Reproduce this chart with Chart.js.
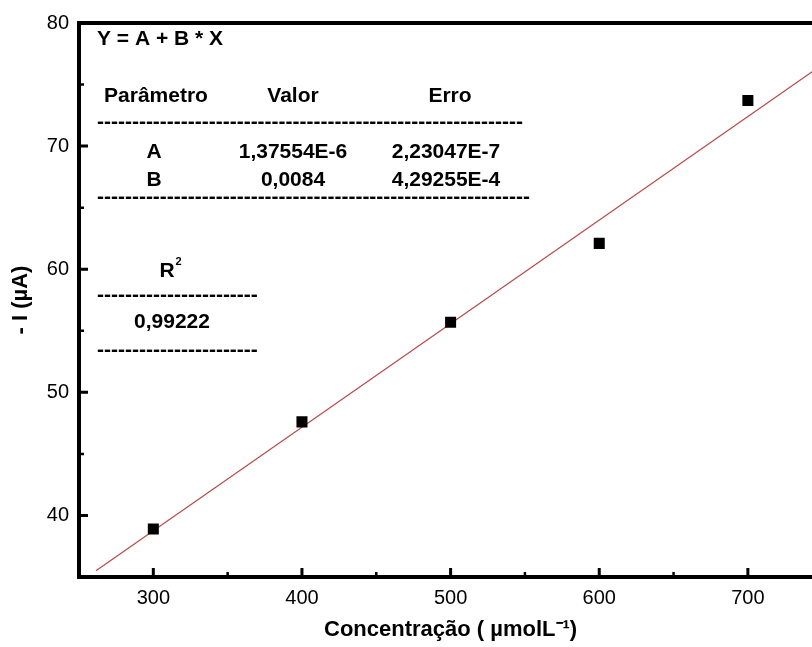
<!DOCTYPE html>
<html>
<head>
<meta charset="utf-8">
<script src="https://cdn.jsdelivr.net/npm/chart.js@4.4.0/dist/chart.umd.min.js"></script>
<style>
  html, body { margin: 0; padding: 0; background: #fff; overflow: hidden; }
  #wrap { position: absolute; left: 0; top: 0; width: 830px; height: 647px; }
</style>
</head>
<body>
<div id="wrap"><canvas id="c" width="830" height="647"></canvas></div>
<script>
// measured points and the linear fit drawn through them
const concentracao = [300, 400, 500, 600, 700];
const corrente = [38.9, 47.6, 55.7, 62.1, 73.7];
const ajusteX = [261.4, 750];
const ajusteY = [35.5, 76.6];

const xTicks = [300, 400, 500, 600, 700];
const xMinorTicks = [350, 450, 550, 650];
const yTicks = [40, 50, 60, 70, 80];
const yMinorTicks = [45, 55, 65, 75];

// fit report text (Origin style)
const equacao = "Y = A + B * X";
const cabecalho = ["Parâmetro", "Valor", "Erro"];
const parametros = ["A", "B"];
const valores = ["1,37554E-6", "0,0084"];
const erros = ["2,23047E-7", "4,29255E-4"];
const r2 = "0,99222";

const FONT = "'Liberation Sans', Arial, sans-serif";

// frame + inward ticks, like the Origin plot
const framePlugin = {
  id: "frame",
  afterDatasetsDraw(chart) {
    const { ctx, chartArea: a, scales: { x, y } } = chart;
    ctx.save();
    ctx.strokeStyle = "#000";
    ctx.lineWidth = 3;
    ctx.beginPath();
    xTicks.forEach(v => { const p = x.getPixelForValue(v); ctx.moveTo(p, a.bottom); ctx.lineTo(p, a.bottom - 9); });
    yTicks.forEach(v => { const p = y.getPixelForValue(v); ctx.moveTo(a.left, p); ctx.lineTo(a.left + 9, p); });
    ctx.stroke();
    ctx.lineWidth = 2.5;
    ctx.beginPath();
    xMinorTicks.forEach(v => { const p = x.getPixelForValue(v); ctx.moveTo(p, a.bottom); ctx.lineTo(p, a.bottom - 5); });
    yMinorTicks.forEach(v => { const p = y.getPixelForValue(v); ctx.moveTo(a.left, p); ctx.lineTo(a.left + 5, p); });
    ctx.stroke();
    ctx.lineWidth = 4;
    ctx.lineCap = "square";
    ctx.strokeRect(a.left, a.top, a.right - a.left, a.bottom - a.top);
    ctx.restore();
  }
};

// the parameter table in the upper-left corner
const tablePlugin = {
  id: "fitTable",
  afterDraw(chart) {
    const ctx = chart.ctx;
    ctx.save();
    ctx.fillStyle = "#000";
    ctx.textBaseline = "middle";
    ctx.font = "bold 21px " + FONT;

    ctx.textAlign = "left";
    ctx.fillText(equacao, 97, 39);

    const cols = [156, 293, 450];
    ctx.textAlign = "center";
    cabecalho.forEach((t, i) => ctx.fillText(t, cols[i], 96));
    parametros.forEach((p, i) => {
      const yy = 152 + i * 28;
      ctx.fillText(p, cols[0] - 2, yy);
      ctx.fillText(valores[i], cols[1], yy);
      ctx.fillText(erros[i], cols[2] - 4, yy);
    });

    // rows of hyphens, as in the original text table
    const dashes = (x0, x1, yy) => {
      ctx.textAlign = "left";
      const n = Math.round((x1 - x0) / ctx.measureText("-").width);
      ctx.fillText("-".repeat(n), x0, yy, x1 - x0);
    };
    dashes(97, 523, 122);
    dashes(97, 530, 197);
    dashes(97, 258, 295);
    dashes(97, 258, 350);

    // R with a small superscript 2
    ctx.textAlign = "center";
    ctx.fillText("R", 167, 271);
    const w = ctx.measureText("R").width;
    ctx.font = "bold 11px " + FONT;
    ctx.textAlign = "left";
    ctx.fillText("2", 167 + w / 2 + 1, 262);
    ctx.font = "bold 21px " + FONT;
    ctx.textAlign = "center";
    ctx.fillText(r2, 172, 322);
    ctx.restore();
  }
};

new Chart(document.getElementById("c"), {
  type: "scatter",
  data: {
    datasets: [
      {
        label: "pontos",
        data: concentracao.map((v, i) => ({ x: v, y: corrente[i] })),
        pointStyle: "rect",
        pointRadius: 7.8,
        backgroundColor: "#000",
        borderColor: "#000",
        borderWidth: 0,
        order: 1
      },
      {
        label: "ajuste linear",
        data: ajusteX.map((v, i) => ({ x: v, y: ajusteY[i] })),
        showLine: true,
        borderColor: "#b84a4a",
        borderWidth: 1.2,
        pointRadius: 0,
        order: 2
      }
    ]
  },
  options: {
    responsive: false,
    animation: false,
    layout: { padding: { top: 23, right: 4, left: 0, bottom: 0 } },
    plugins: { legend: { display: false }, tooltip: { enabled: false } },
    scales: {
      x: {
        type: "linear",
        min: 250,
        max: 750,
        afterBuildTicks: s => { s.ticks = xTicks.map(v => ({ value: v })); },
        afterFit: s => { s.height = 70; },
        grid: { display: false, drawTicks: false },
        border: { display: false },
        ticks: { color: "#000", padding: 9, font: { family: FONT, size: 20 } },
        title: {
          display: true,
          text: "Concentração ( µmolL⁻¹)",
          color: "#000",
          font: { family: FONT, size: 22, weight: "bold" },
          padding: { top: 0, bottom: 4 }
        }
      },
      y: {
        type: "linear",
        min: 35,
        max: 80,
        afterBuildTicks: s => { s.ticks = yTicks.map(v => ({ value: v })); },
        afterFit: s => { s.width = 79; },
        grid: { display: false, drawTicks: false },
        border: { display: false },
        ticks: { color: "#000", padding: 10, font: { family: FONT, size: 20 } },
        title: {
          display: true,
          text: "- I (µA)",
          color: "#000",
          font: { family: FONT, size: 22, weight: "bold" },
          padding: { top: 8, bottom: 0 }
        }
      }
    }
  },
  plugins: [framePlugin, tablePlugin]
});
</script>
</body>
</html>
